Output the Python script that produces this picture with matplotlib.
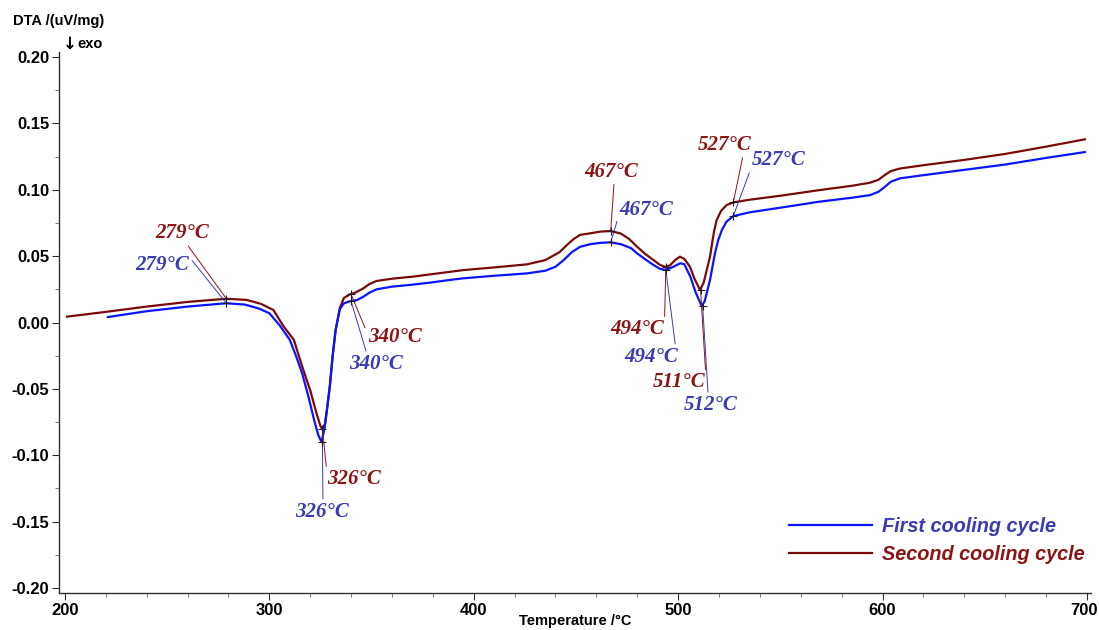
import matplotlib
matplotlib.use("Agg")
import matplotlib.pyplot as plt
import matplotlib.transforms as mtransforms
from matplotlib.ticker import MultipleLocator

# ---------------- data ----------------
first_T = [221, 240, 260, 279, 288, 295, 300, 305, 310, 313, 316, 319, 322, 324, 325.5,
           327, 328, 329.6, 331, 332.5, 334.5, 336.5, 339.5, 343, 346, 349, 352.5, 360,
           370, 380, 388, 395, 410, 426, 435, 440, 444, 448, 452, 457, 462, 467, 472,
           477, 480, 484, 488, 491, 494, 497, 501, 503, 506, 508.5, 511.5, 513, 515.6,
           518, 519.6, 521.5, 523.7, 527, 535, 550, 569, 585, 594, 598, 601, 604, 608.5,
           620, 640, 660, 680, 699]
first_v = [0.0041, 0.0085, 0.0120, 0.0145, 0.0135, 0.0105, 0.0070, -0.0020, -0.0130,
           -0.0250, -0.0380, -0.0550, -0.0740, -0.0850, -0.0900, -0.0800, -0.0680, -0.0480,
           -0.0250, -0.0050, 0.0100, 0.0145, 0.0160, 0.0170, 0.0194, 0.0225, 0.0250, 0.0270,
           0.0285, 0.0303, 0.0320, 0.0333, 0.0352, 0.0370, 0.0390, 0.0420, 0.0470, 0.0530,
           0.0570, 0.0590, 0.0600, 0.0604, 0.0590, 0.0560, 0.0520, 0.0475, 0.0433, 0.0405,
           0.0395, 0.0415, 0.0446, 0.0440, 0.0345, 0.0230, 0.0124, 0.0160, 0.0320, 0.0520,
           0.0620, 0.0700, 0.0760, 0.0802, 0.0830, 0.0865, 0.0910, 0.0940, 0.0960, 0.0985,
           0.1020, 0.1060, 0.1086, 0.1110, 0.1150, 0.1190, 0.1240, 0.1284]

second_T = [201, 220, 240, 260, 279, 289, 296, 302, 307, 312, 315, 318, 320, 323, 325, 326,
            327.3, 328.5, 329.6, 331, 332.3, 334.5, 336.5, 339.4, 342, 346, 349, 352.5, 360,
            370, 380, 395, 410, 426, 435, 442, 446, 449, 452, 457, 462, 467, 472, 476, 480,
            484, 488, 491, 493.5, 496, 498.5, 500.9, 503, 505.8, 508, 510.7, 512.5, 515.6,
            517.5, 518.8, 521, 523.7, 527, 535, 550, 569.4, 585, 593.8, 598, 601, 604, 608.5,
            620, 640, 660, 680, 699]
second_v = [0.0044, 0.0080, 0.0120, 0.0155, 0.0179, 0.0170, 0.0140, 0.0094, -0.0030,
            -0.0130, -0.0280, -0.0420, -0.0510, -0.0680, -0.0780, -0.0805, -0.0760, -0.0620,
            -0.0480, -0.0250, -0.0070, 0.0110, 0.0185, 0.0212, 0.0225, 0.0257, 0.0290, 0.0313,
            0.0330, 0.0345, 0.0365, 0.0395, 0.0415, 0.0438, 0.0470, 0.0530, 0.0590, 0.0630,
            0.0660, 0.0672, 0.0685, 0.0689, 0.0670, 0.0630, 0.0570, 0.0515, 0.0470, 0.0435,
            0.0420, 0.0430, 0.0470, 0.0496, 0.0480, 0.0420, 0.0330, 0.0245, 0.0300, 0.0496,
            0.0680, 0.0770, 0.0840, 0.0885, 0.0905, 0.0925, 0.0955, 0.0998, 0.1030, 0.1053,
            0.1075, 0.1110, 0.1140, 0.1160, 0.1185, 0.1225, 0.1270, 0.1325, 0.1380]

series_names = ["First cooling cycle", "Second cooling cycle"]

first_marks_T = [279, 326, 340, 467, 494, 512, 527]
first_marks_v = [0.0145, -0.0900, 0.0160, 0.0604, 0.0395, 0.0124, 0.0802]
first_labels = ["279°C", "326°C", "340°C", "467°C", "494°C", "512°C", "527°C"]
second_marks_T = [279, 326, 340, 467, 494, 511, 527]
second_marks_v = [0.0179, -0.0805, 0.0212, 0.0689, 0.0420, 0.0245, 0.0905]
second_labels = ["279°C", "326°C", "340°C", "467°C", "494°C", "511°C", "527°C"]

x_ticks = [200, 300, 400, 500, 600, 700]
y_ticks = [-0.20, -0.15, -0.10, -0.05, 0.00, 0.05, 0.10, 0.15, 0.20]

# ---------------- styling ----------------
line_blue = "#0a14ff"
line_brown = "#7a0a0a"
text_blue = "#3a3ab4"
text_brown = "#8b1414"

fig = plt.figure(figsize=(10.99, 6.30), dpi=100)
ax = fig.add_axes([59 / 1099, 37 / 630, 1032 / 1099, 541 / 630])

ax.plot(first_T, first_v, color=line_blue, lw=1.6, label=series_names[0], zorder=3)
ax.plot(second_T, second_v, color=line_brown, lw=1.6, label=series_names[1], zorder=2)

ax.plot(first_marks_T, first_marks_v, ls="none", marker="+", ms=6, mew=0.8, color="#202020", zorder=4)
ax.plot(second_marks_T, second_marks_v, ls="none", marker="+", ms=6, mew=0.8, color="#202020", zorder=4)

label_font = dict(family="Liberation Serif", fontweight="bold", fontstyle="italic", fontsize=15)

# label placement in data coords (x, y, ha, leader attach point on text box)
first_text_pos = [(247.7, 0.0433, "center", (1.0, 0.9)),
                  (325.7, -0.1425, "center", (0.52, 1.0)),
                  (352.2, -0.0312, "center", (0.33, 1.0)),
                  (484.6, 0.0847, "center", (0.0, 0.4)),
                  (486.9, -0.0258, "center", (0.95, 1.0)),
                  (516.0, -0.0621, "center", (0.45, 1.0)),
                  (549.2, 0.1224, "center", (0.0, 0.2))]
second_text_pos = [(257.5, 0.0672, "center", (0.57, 0.0)),
                   (328.2, -0.1181, "left", (0.0, 0.8)),
                   (348.2, -0.0106, "left", (0.0, 0.6)),
                   (467.4, 0.1136, "center", (0.55, 0.0)),
                   (480.1, -0.0051, "center", (1.0, 0.5)),
                   (500.7, -0.0451, "center", (1.0, 0.8)),
                   (522.6, 0.1337, "center", (0.85, 0.0))]

for T, v, lab, (tx, ty, ha, rp) in zip(first_marks_T, first_marks_v, first_labels, first_text_pos):
    ax.annotate(lab, xy=(T, v), xytext=(tx, ty), ha=ha, va="center", color=text_blue,
                arrowprops=dict(arrowstyle="-", color=text_blue, lw=0.7, shrinkA=0, shrinkB=0,
                                relpos=rp), **label_font)
for T, v, lab, (tx, ty, ha, rp) in zip(second_marks_T, second_marks_v, second_labels, second_text_pos):
    ax.annotate(lab, xy=(T, v), xytext=(tx, ty), ha=ha, va="center", color=text_brown,
                arrowprops=dict(arrowstyle="-", color=text_brown, lw=0.7, shrinkA=0, shrinkB=0,
                                relpos=rp), **label_font)

ax.set_xlim(197.1, 702)
ax.set_ylim(-0.2038, 0.2038)
ax.set_xticks(x_ticks)
ax.set_yticks(y_ticks)
ax.set_xticklabels([str(t) for t in x_ticks])
ax.set_yticklabels([f"{t:.2f}" for t in y_ticks])
ax.xaxis.set_minor_locator(MultipleLocator(20))
ax.yaxis.set_minor_locator(MultipleLocator(0.025))

for s in ["top", "right"]:
    ax.spines[s].set_visible(False)
for s in ["left", "bottom"]:
    ax.spines[s].set_color("#303030")
    ax.spines[s].set_linewidth(1.0)

ax.tick_params(axis="both", which="major", length=5, width=0.8, color="#303030", direction="out",
               labelsize=12, pad=2)
ax.tick_params(axis="both", which="minor", length=3, width=0.6, color="#606060", direction="out")
for lbl in ax.get_xticklabels() + ax.get_yticklabels():
    lbl.set_fontweight("bold")
    lbl.set_fontfamily("Liberation Sans")

# nudge the last x tick label slightly left so it stays inside the figure
last_lbl = ax.get_xticklabels()[-1]
last_lbl.set_transform(last_lbl.get_transform() +
                       mtransforms.ScaledTranslation(-3 / 100, 0, fig.dpi_scale_trans))

fig.text(13 / 1099, 1 - 21 / 630, "DTA /(uV/mg)", ha="left", va="center", fontsize=10.5,
         fontweight="bold", family=["Liberation Sans", "DejaVu Sans"])
fig.text(63 / 1099, 1 - 44 / 630, "↓", ha="left", va="center", fontsize=12,
         fontweight="bold", family=["DejaVu Sans"])
fig.text(77 / 1099, 1 - 44 / 630, "exo", ha="left", va="center", fontsize=10.5,
         fontweight="bold", family=["Liberation Sans", "DejaVu Sans"])
fig.text(575 / 1099, 1 - 621 / 630, "Temperature /°C", ha="center", va="center", fontsize=10.5,
         fontweight="bold", family=["Liberation Sans", "DejaVu Sans"])

leg = ax.legend(loc="upper left", bbox_to_anchor=(789 / 1099, 1 - 517 / 630),
                bbox_transform=fig.transFigure, frameon=False, borderpad=0, borderaxespad=0,
                handlelength=4.2, handletextpad=0.5, labelspacing=0.45,
                prop=dict(family="Liberation Sans", weight="bold", style="italic", size=14.3))
for txt, c in zip(leg.get_texts(), [text_blue, text_brown]):
    txt.set_color(c)

fig.savefig("out.png", dpi=100)
